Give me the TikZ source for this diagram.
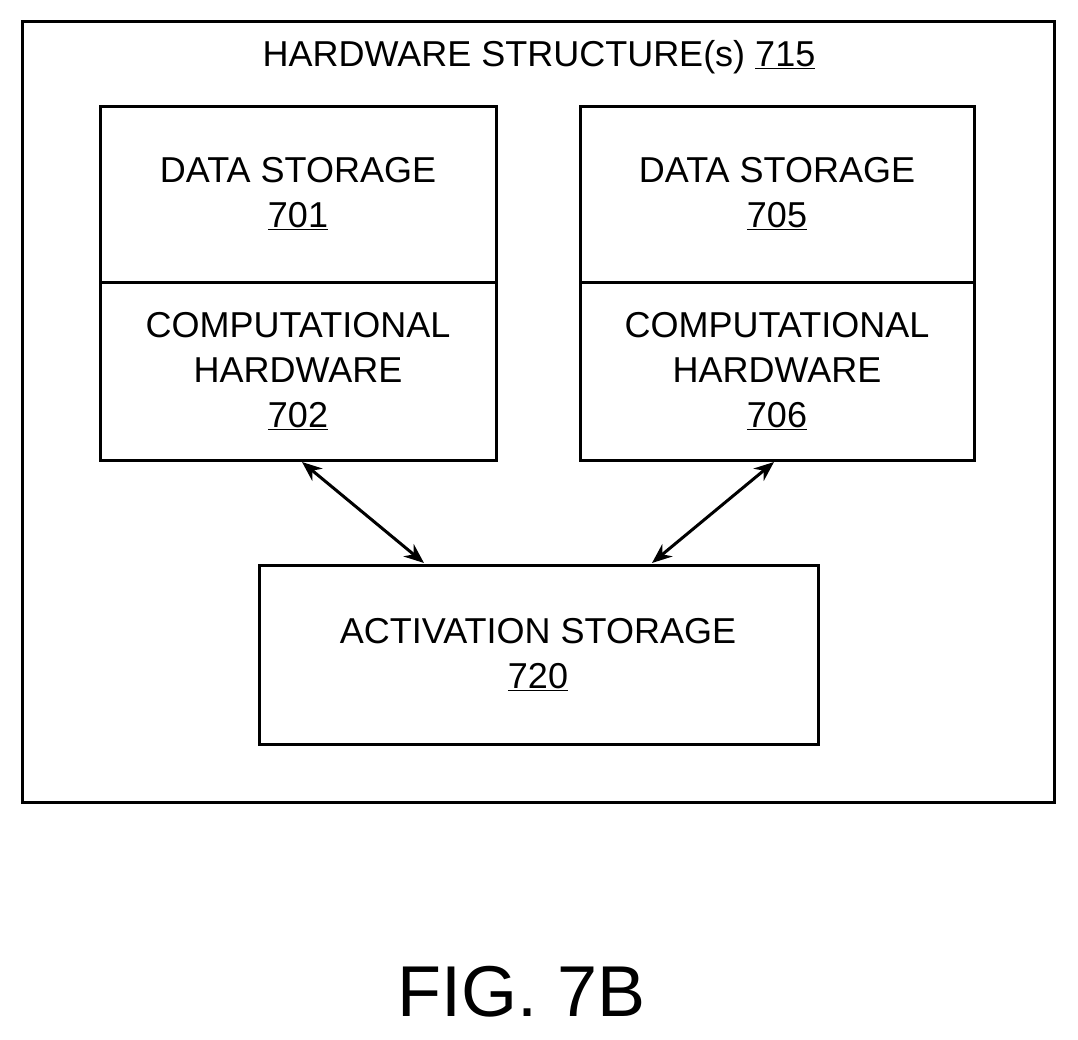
\documentclass[tikz,border=0pt]{standalone}
\usepackage{fontspec}
\setmainfont{Liberation Sans}
\usetikzlibrary{arrows.meta}
\begin{document}
\begin{tikzpicture}[x=1pt,y=-1pt,
  box/.style={draw,line width=3pt,inner sep=0pt},
  lbl/.style={font=\fontsize{36}{45}\selectfont,align=center,inner sep=0pt},
  arr/.style={line width=3pt,{Stealth[length=20pt,width=16pt]}-{Stealth[length=20pt,width=16pt]}}]
\useasboundingbox (0,0) rectangle (1078,1040);
\draw[box] (22,22) rectangle (1054,802);
\node[lbl] (title) at (539,57) {HARDWARE STRUCTURE(s) \underline{715}};
\draw[box] (100,107) rectangle (496,283);
\draw[box] (100,283) rectangle (496,460);
\draw[box] (580,107) rectangle (974,283);
\draw[box] (580,283) rectangle (974,460);
\draw[box] (259,565) rectangle (818,744);
\node[lbl] (ds1) at (298,194) {DATA STORAGE\\\underline{701}};
\node[lbl] (ds2) at (777,194) {DATA STORAGE\\\underline{705}};
\node[lbl] (ch1) at (298,371) {COMPUTATIONAL\\HARDWARE\\\underline{702}};
\node[lbl] (ch2) at (777,371) {COMPUTATIONAL\\HARDWARE\\\underline{706}};
\node[lbl] (act) at (538,655) {ACTIVATION STORAGE\\\underline{720}};
\coordinate (a1) at (302,462); \coordinate (b1) at (424,563);
\coordinate (a2) at (774,462); \coordinate (b2) at (652,563);
\draw[arr] (a1) -- (b1);
\draw[arr] (a2) -- (b2);
\node[font=\fontsize{72}{84}\selectfont,inner sep=0pt] (fig) at (522,992) {FIG. 7B};
\end{tikzpicture}
\end{document}
